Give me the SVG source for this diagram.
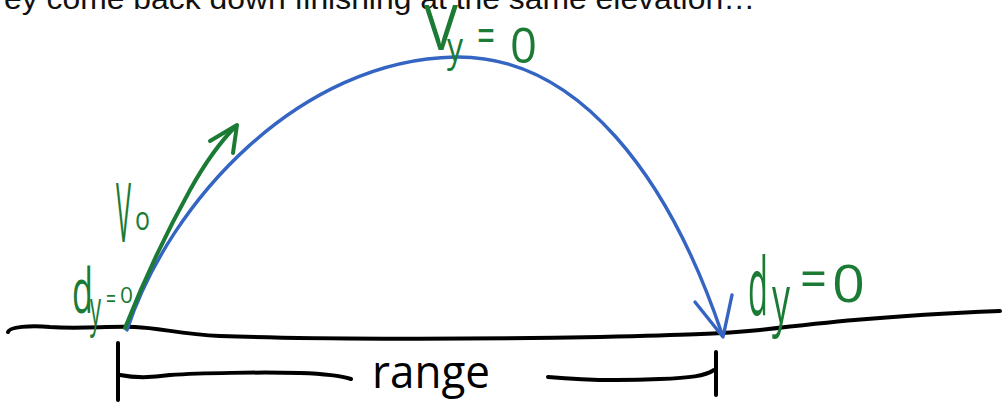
<svg xmlns="http://www.w3.org/2000/svg" width="1007" height="406" viewBox="0 0 1007 406">
<style>
.ink{fill:none;stroke-linecap:round;stroke-linejoin:round}
.blk{stroke:#000;stroke-width:4}
.blue{stroke:#3565c2;stroke-width:3.4}
.grn{stroke:#1b7b35;stroke-width:4}
.hand{font-family:"Open Sans","DejaVu Sans",sans-serif;fill:#1b7b35}
.handk{font-family:"Open Sans","DejaVu Sans",sans-serif;fill:#000}
.cap{font-family:"Liberation Sans",Arial,sans-serif;fill:#111}
</style>
<rect width="1007" height="406" fill="#fff"/>
<text class="cap" x="4" y="9" font-size="29" textLength="751" lengthAdjust="spacingAndGlyphs">ey come back down finishing at the same elevation…</text>
<g id="ground">
<path class="ink blk" d="M8,332 C9,327 30,325 50,327 C80,329 110,326 135,327 C160,328 180,334 220,336 C300,339 450,340 600,337 C680,335 720,334 760,330 C820,323 880,316 1000,311"/>
</g>
<g id="connectors">
<g id="trajectory">
<path class="ink blue" d="M127,330 C170,200 300,60 455,57 C580,55 670,180 722,334"/>
<path class="ink blue" d="M695,302 L723,337 L732,295"/>
</g>
<g id="v0-arrow">
<path class="ink grn" d="M125,328 C140,290 165,235 190,190 C205,163 222,140 236,126"/>
<path class="ink grn" d="M210,141 L237,125 L233,153"/>
</g>
</g>
<g id="range">
<path class="ink blk" d="M118,343 L118,400"/>
<path class="ink blk" d="M120,375 C135,378 150,378 170,375 C200,373 260,372 300,373 C330,374 345,377 351,379"/>
<path class="ink blk" d="M548,377 C580,380 620,381 660,379 C690,378 705,376 714,370"/>
<path class="ink blk" d="M716,352 L716,395"/>
<text class="handk" x="372" y="388" font-size="46" textLength="118" lengthAdjust="spacingAndGlyphs">range</text>
</g>
<g id="label-vy">
<text class="hand"><tspan x="424" y="50" font-size="63" textLength="34" lengthAdjust="spacingAndGlyphs">V</tspan><tspan x="447" y="61" font-size="40" textLength="16" lengthAdjust="spacingAndGlyphs">y</tspan><tspan x="477" y="52" font-size="48" textLength="18" lengthAdjust="spacingAndGlyphs">=</tspan><tspan x="510" y="63" font-size="49" textLength="27" lengthAdjust="spacingAndGlyphs">0</tspan></text>
</g>
<g id="label-v0">
<text class="hand"><tspan x="116" y="242" font-size="82" textLength="15" lengthAdjust="spacingAndGlyphs">V</tspan><tspan x="135" y="230" font-size="32" textLength="15" lengthAdjust="spacingAndGlyphs">o</tspan></text>
</g>
<g id="label-dy-left">
<text class="hand"><tspan x="72" y="313" font-size="63" textLength="21" lengthAdjust="spacingAndGlyphs">d</tspan><tspan x="90" y="326" font-size="49" textLength="11" lengthAdjust="spacingAndGlyphs">y</tspan><tspan x="106" y="308" font-size="28" textLength="10" lengthAdjust="spacingAndGlyphs">=</tspan><tspan x="120" y="303" font-size="22" textLength="13" lengthAdjust="spacingAndGlyphs">0</tspan></text>
</g>
<g id="label-dy-right">
<text class="hand"><tspan x="748" y="315" font-size="80" textLength="20" lengthAdjust="spacingAndGlyphs">d</tspan><tspan x="772" y="323" font-size="68" textLength="18" lengthAdjust="spacingAndGlyphs">y</tspan><tspan x="800" y="298" font-size="55" textLength="27" lengthAdjust="spacingAndGlyphs">=</tspan><tspan x="832" y="302" font-size="52" textLength="33" lengthAdjust="spacingAndGlyphs">0</tspan></text>
</g>
</svg>
